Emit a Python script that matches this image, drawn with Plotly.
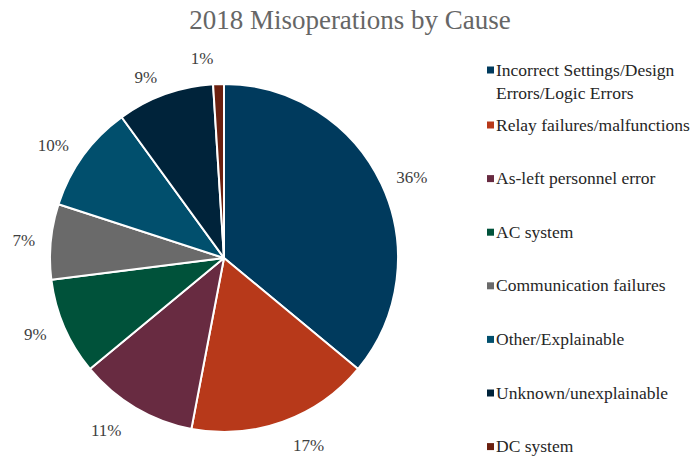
import plotly.graph_objects as go

# 2018 misoperations, share of total by cause (%)
causes = [
    "Incorrect Settings/Design<br>Errors/Logic Errors",
    "Relay failures/malfunctions",
    "As-left personnel error",
    "AC system",
    "Communication failures",
    "Other/Explainable",
    "Unknown/unexplainable",
    "DC system",
]
shares = [36, 17, 11, 9, 7, 10, 9, 1]
colors = ["#003A5D", "#B7391A", "#682B41", "#00523A",
          "#6A6A6A", "#014F6D", "#00233A", "#6B200F"]

W, H = 700, 457
FONT = "Palatino Linotype, Book Antiqua, Palatino, Liberation Serif, serif"
LABEL_GREY = "#404040"

# pie geometry in pixels
cx, cy, r = 224, 258, 174
# the percentage labels ride on a transparent copy of the pie that is
# slightly larger, so they sit a little away from the slice edges;
# small per-slice pulls fine-tune each label's distance
label_pull = [0.011, 0.038, 0.049, 0.027, 0.011, 0.016, 0, 0]
r_lab = 183 * (1 + max(label_pull))


def domain(rad):
    return dict(x=[(cx - rad) / W, (cx + rad) / W],
                y=[max(0, (H - cy - rad) / H), min(1, (H - cy + rad) / H)])


fig = go.Figure()
fig.add_trace(go.Pie(
    labels=causes,
    values=shares,
    sort=False,
    direction="clockwise",
    rotation=0,
    pull=label_pull,
    marker=dict(colors=["rgba(0,0,0,0)"] * len(shares),
                line=dict(color="rgba(0,0,0,0)", width=0)),
    # connector lines take the base font colour (white, hidden);
    # the label text itself is coloured through the span
    texttemplate="<span style='color:" + LABEL_GREY + "'>%{value}%</span>",
    textposition="outside",
    textfont=dict(family=FONT, size=17, color="white"),
    showlegend=False,
    hoverinfo="skip",
    automargin=False,
    domain=domain(r_lab),
))
fig.add_trace(go.Pie(
    labels=causes,
    values=shares,
    sort=False,
    direction="clockwise",
    rotation=0,
    marker=dict(colors=colors, line=dict(color="white", width=2)),
    textinfo="none",
    showlegend=False,
    hoverinfo="label+percent",
    domain=domain(r),
))

# legend drawn beside the pie
shapes, annotations = [], []
sq = 7
fs = 17.5
for i, (name, col) in enumerate(zip(causes, colors)):
    yc = 70 if i == 0 else 125 + 53.6 * (i - 1)
    shapes.append(dict(type="rect", xref="paper", yref="paper",
                       x0=487 / W, x1=(487 + sq) / W,
                       y0=1 - (yc + sq / 2) / H, y1=1 - (yc - sq / 2) / H,
                       fillcolor=col, line=dict(width=0)))
    annotations.append(dict(xref="paper", yref="paper", x=494 / W,
                            y=1 - (yc - 0.65 * fs - 1) / H,
                            xanchor="left", yanchor="top",
                            text=name, showarrow=False, align="left",
                            font=dict(family=FONT, size=fs, color="#262626")))

fig.update_layout(
    width=W, height=H,
    margin=dict(l=0, r=0, t=0, b=0, autoexpand=False),
    paper_bgcolor="white",
    title=dict(text="2018 Misoperations by Cause", x=0.5, xanchor="center",
               y=1 - 20 / H, yanchor="middle",
               font=dict(family=FONT, size=27, color="#666666")),
    shapes=shapes,
    annotations=annotations,
)

fig.write_html("out.html")
